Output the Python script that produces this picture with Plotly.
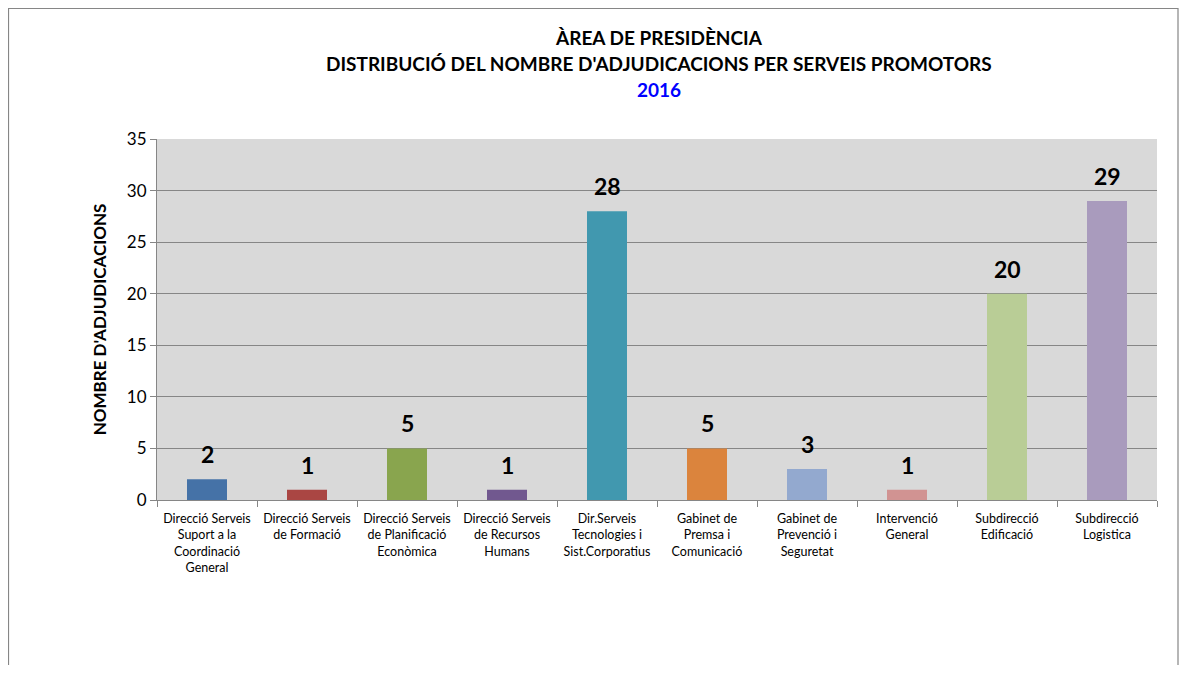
import plotly.graph_objects as go

categories = [
    "Direcció Serveis<br>Suport a la<br>Coordinació<br>General",
    "Direcció Serveis<br>de Formació",
    "Direcció Serveis<br>de Planificació<br>Econòmica",
    "Direcció Serveis<br>de Recursos<br>Humans",
    "Dir.Serveis<br>Tecnologies i<br>Sist.Corporatius",
    "Gabinet de<br>Premsa i<br>Comunicació",
    "Gabinet de<br>Prevenció i<br>Seguretat",
    "Intervenció<br>General",
    "Subdirecció<br>Edificació",
    "Subdirecció<br>Logistica",
]
adjudicacions = [2, 1, 5, 1, 28, 5, 3, 1, 20, 29]
bar_colors = [
    "#4572A7", "#AA4643", "#89A54E", "#71588F", "#4198AF",
    "#DB843D", "#93A9CF", "#D19392", "#B9CD96", "#A99BBD",
]
y_ticks = [0, 5, 10, 15, 20, 25, 30, 35]
title_lines = [
    ("ÀREA DE PRESIDÈNCIA", "#000000"),
    ("DISTRIBUCIÓ DEL NOMBRE D'ADJUDICACIONS PER SERVEIS PROMOTORS", "#000000"),
    ("2016", "#0000FF"),
]

font_family = "Lato, 'Open Sans', sans-serif"

fig = go.Figure()
fig.add_trace(go.Bar(
    x=categories,
    y=adjudicacions,
    width=0.4,
    marker={"color": bar_colors, "line": {"width": 0}},
    hoverinfo="x+y",
))

# value labels above bars
for cat, val in zip(categories, adjudicacions):
    fig.add_annotation(
        x=cat, y=val, text=f"<b>{val}</b>", showarrow=False,
        yanchor="bottom", yshift=9,
        font={"size": 23, "color": "#000000", "family": font_family},
    )

# title, one annotation per line to get the wider line spacing
for i, (line, color) in enumerate(title_lines):
    fig.add_annotation(
        x=0.502, y=1.2825 - i * 0.072, xref="paper", yref="paper",
        text=f"<b>{line}</b>", showarrow=False,
        xanchor="center", yanchor="middle",
        font={"size": 19, "color": color, "family": font_family},
    )

# outer chart frame
fig.add_shape(
    type="rect", xref="paper", yref="paper",
    x0=-0.1485, x1=1.021, y0=-0.6, y1=1.3615,
    line={"color": "#868686", "width": 1.2}, fillcolor="rgba(0,0,0,0)", layer="below",
)

fig.update_layout(
    width=1171,
    height=657,
    margin={"l": 149, "r": 22, "t": 131, "b": 165},
    paper_bgcolor="white",
    plot_bgcolor="#D9D9D9",
    showlegend=False,
    font={"family": font_family, "color": "#000000"},
    xaxis={
        "tickson": "boundaries",
        "ticks": "outside",
        "ticklen": 6,
        "tickcolor": "#868686",
        "showline": True,
        "linecolor": "#868686",
        "linewidth": 1,
        "tickangle": 0,
        "ticklabelstandoff": 7,
        "tickfont": {"size": 12.5, "color": "#000000"},
        "fixedrange": True,
    },
    yaxis={
        "range": [0, 35],
        "tickvals": y_ticks,
        "ticks": "outside",
        "ticklen": 6,
        "tickcolor": "#868686",
        "showline": True,
        "linecolor": "#868686",
        "gridcolor": "#868686",
        "gridwidth": 1,
        "zeroline": False,
        "tickfont": {"size": 17, "color": "#000000"},
        "title": {"text": "<b>NOMBRE D'ADJUDICACIONS</b>", "font": {"size": 17}, "standoff": 15},
        "fixedrange": True,
    },
)

fig.write_html("out.html")
